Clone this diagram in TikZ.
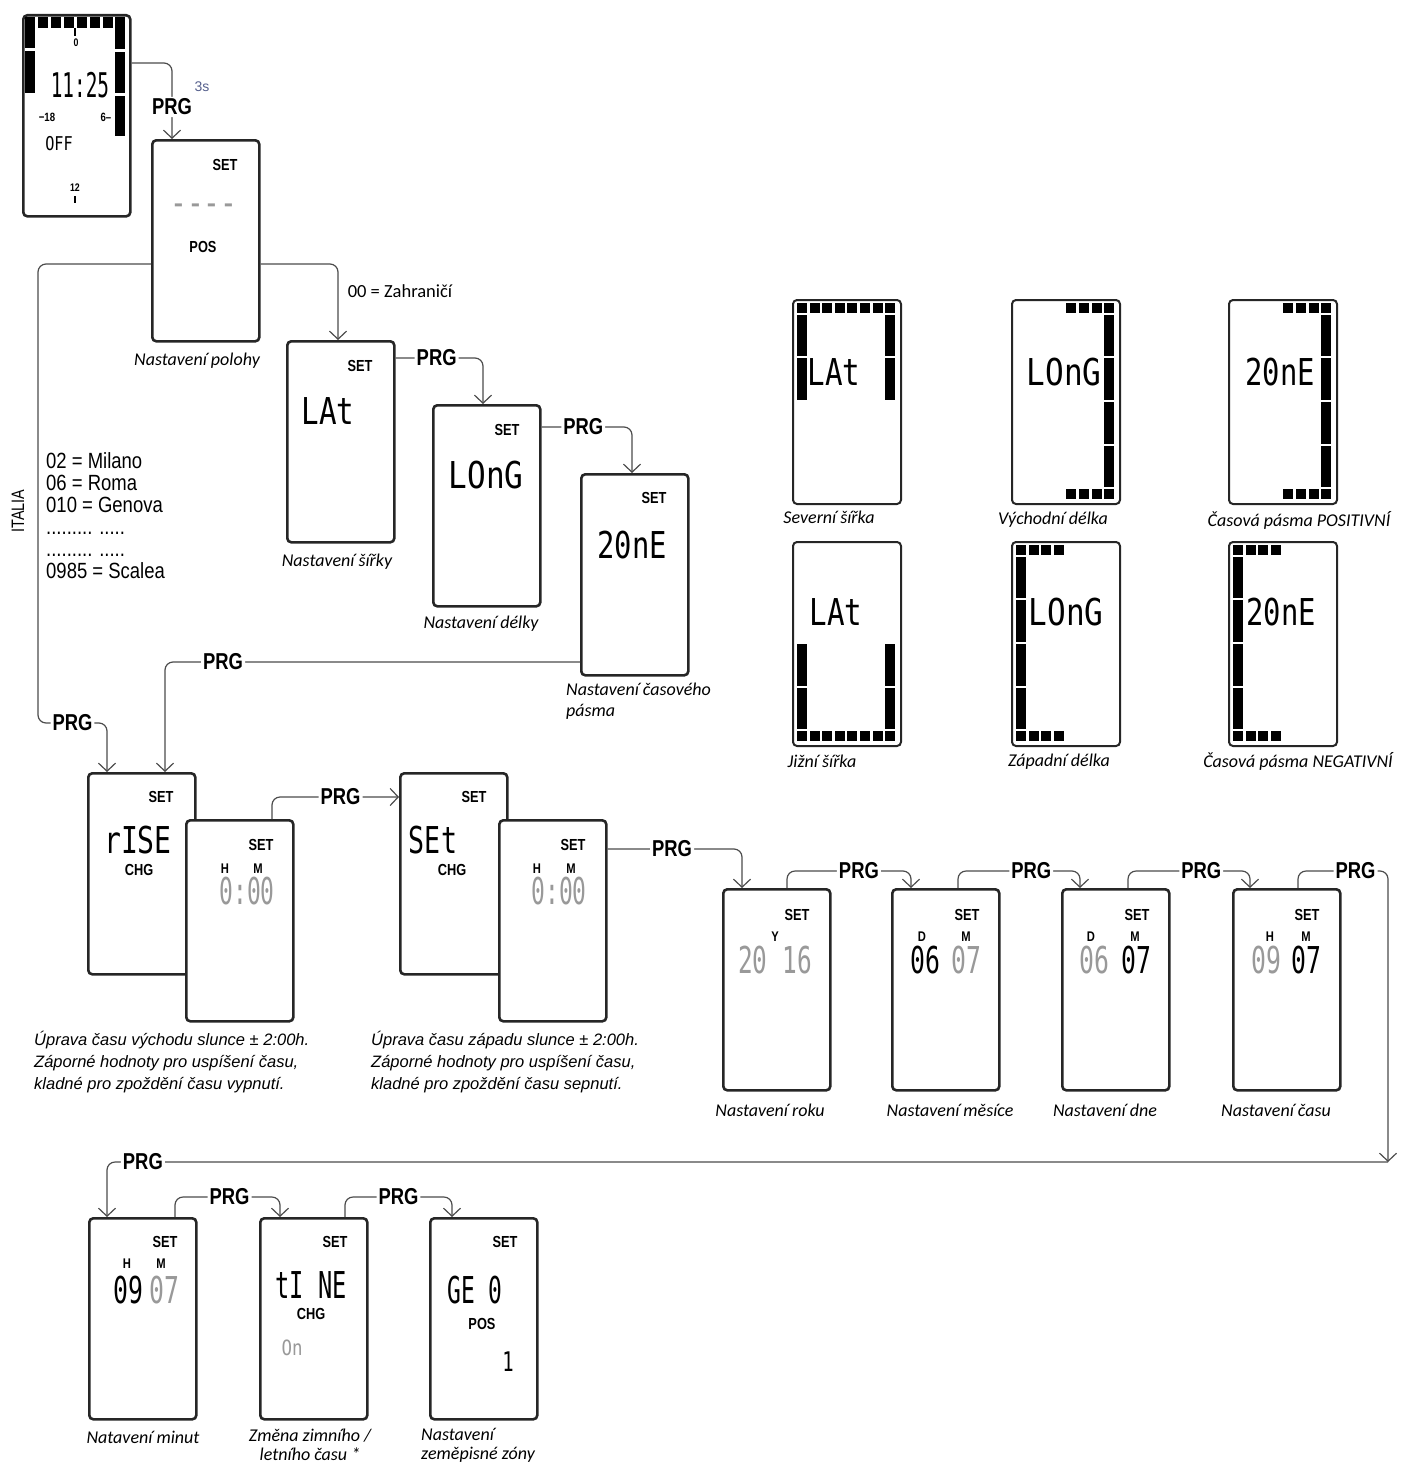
\documentclass[tikz,border=0pt]{standalone}
\usepackage{fontspec}
\usepackage{graphicx}
\setmainfont{Liberation Sans}
\newfontfamily\capfont{Carlito}
\newfontfamily\lcdfont{DejaVu Sans Mono}
\usetikzlibrary{arrows.meta}
\definecolor{dimgray}{gray}{0.6}
\definecolor{hintblue}{RGB}{85,95,140}
\newcommand{\cnd}[2][0.8]{\scalebox{#1}[1]{#2}}
\newcommand{\lcd}[2][0.78]{\scalebox{#1}[1]{#2}}
% segments of the small legend displays
\newcommand{\keyrow}[3]{\foreach \i in {#3} \fill ([shift={(5+12.6*\i,#2)}]#1.north west) rectangle ++(10,10);}
\newcommand{\keycol}[3]{\foreach \a/\b in {#3} \fill ([shift={(#2,\a)}]#1.north west) rectangle ([shift={(#2+10,\b)}]#1.north west);}

\begin{document}
\begin{tikzpicture}[x=1pt,y=-1pt,
  lcd/.style={draw=black!85,line width=2.6pt,rounded corners=4pt,fill=white,anchor=north west,inner sep=0pt,minimum width=107pt,minimum height=201pt},
  keybox/.style={lcd,line width=2pt,minimum width=108pt,minimum height=204pt},
  link/.style={draw=black!70,line width=1.2pt,rounded corners=8pt},
  flow/.style={link,-{Straight Barb[length=8pt,width=17pt,line width=1.2pt]}},
  prg/.style={fill=white,inner sep=2pt,font=\fontsize{23}{23}\selectfont\bfseries},
  tag/.style={inner sep=0pt,font=\fontsize{16}{16}\selectfont\bfseries},
  mini/.style={inner sep=0pt,font=\fontsize{14}{14}\selectfont\bfseries},
  seg/.style={inner sep=0pt,text depth=0pt,font=\lcdfont\fontsize{37}{37}\selectfont},
  dim/.style={text=dimgray},
  capt/.style={inner sep=0pt,font=\capfont\itshape\fontsize{18}{21}\selectfont},
  note/.style={inner sep=0pt,anchor=north west,align=left,font=\itshape\fontsize{16.5}{22}\selectfont}]
  \useasboundingbox (0,0) rectangle (1401,1464);

  % displays
  \node[lcd] (clock) at (22,14) {};
  \node[lcd] (pos) at (151,139) {};
  \node[lcd] (lat) at (286,340) {};
  \node[lcd] (long) at (432,404) {};
  \node[lcd] (zone) at (580,473) {};
  \node[lcd] (rise) at (87,772) {};
  \node[lcd] (riseval) at (185,819) {};
  \node[lcd] (sset) at (399,772) {};
  \node[lcd] (ssetval) at (498,819) {};
  \node[lcd] (year) at (722,888) {};
  \node[lcd] (month) at (891,888) {};
  \node[lcd] (day) at (1061,888) {};
  \node[lcd] (hhmm) at (1232,888) {};
  \node[lcd] (mins) at (88,1217) {};
  \node[lcd] (dst) at (259,1217) {};
  \node[lcd] (geo) at (429,1217) {};
  \node[keybox] (latN) at (792,299) {};
  \node[keybox] (lonE) at (1011,299) {};
  \node[keybox] (tzP) at (1228,299) {};
  \node[keybox] (latS) at (792,541) {};
  \node[keybox] (lonW) at (1011,541) {};
  \node[keybox] (tzN) at (1228,541) {};

  % clock
  \foreach \x in {38,51,64,77,90,103} \fill (\x,17) rectangle ++(10,11);
  \foreach \a/\b in {17/48,51/93} \fill (25,\a) rectangle (35,\b);
  \foreach \a/\b in {17/49,52/93,96/136} \fill (115,\a) rectangle (125,\b);
  \draw[line width=2.5pt] (75,28) -- (75,36);
  \draw[line width=2.5pt] (75,196) -- (75,203);
  \node[mini,font=\fontsize{11}{11}\selectfont\bfseries] (clk-0) at (76,43) {\cnd{0}};
  \node[seg,font=\lcdfont\fontsize{34}{34}\selectfont] (clk-time) at (80,85) {\lcd[0.57]{11:25}};
  \node[mini,font=\fontsize{12}{12}\selectfont\bfseries] (clk-18) at (47,117) {\cnd{−18}};
  \node[mini,font=\fontsize{12}{12}\selectfont\bfseries] (clk-6) at (106,117) {\cnd{6–}};
  \node[seg,font=\lcdfont\fontsize{19}{19}\selectfont] (clk-off) at (59,143) {\lcd[0.8]{OFF}};
  \node[mini,font=\fontsize{11}{11}\selectfont\bfseries] (clk-12) at (75,188) {\cnd{12}};
  \node[font=\fontsize{14}{14}\selectfont,text=hintblue] (hold) at (202,87) {3s};

  % position
  \node[tag] (pos-set) at (225,165) {\cnd{SET}};
  \node[seg,dim] (pos-val) at (204,210) {\lcd[0.75]{----}};
  \node[tag] (pos-pos) at (203,247) {\cnd{POS}};
  \node[capt] (pos-cap) at (197,361) {Nastavení polohy};
  \node[inner sep=0pt,font=\capfont\fontsize{18.5}{18.5}\selectfont] (abroad) at (400,291) {00 = Zahraničí};
  \node[inner sep=0pt,rotate=90,font=\fontsize{18}{18}\selectfont] (italia) at (18,511) {\cnd{ITALIA}};
  \node[inner sep=0pt,anchor=north west,align=left,font=\fontsize{22}{22}\selectfont] (cities) at (46,452)
    {\cnd[0.84]{02 = Milano}\\\cnd[0.84]{06 = Roma}\\\cnd[0.84]{010 = Genova}\\\cnd[0.84]{......... .....}\\\cnd[0.84]{......... .....}\\\cnd[0.84]{0985 = Scalea}};

  % latitude, longitude, zone
  \node[tag] (lat-set) at (360,366) {\cnd{SET}};
  \node[seg] (lat-val) at (328,411) {\lcd[0.79]{LAt}};
  \node[capt] (lat-cap) at (337,562) {Nastavení šířky};
  \node[tag] (long-set) at (507,430) {\cnd{SET}};
  \node[seg] (long-val) at (486,475) {\lcd[0.84]{LOnG}};
  \node[capt] (long-cap) at (481,624) {Nastavení délky};
  \node[tag] (zone-set) at (654,498) {\cnd{SET}};
  \node[seg] (zone-val) at (632,545) {\lcd[0.78]{20nE}};
  \node[capt,anchor=north west,align=left] (zone-cap) at (566,683) {Nastavení časového\\pásma};

  % sunrise, sunset
  \node[tag] (rise-set) at (161,797) {\cnd{SET}};
  \node[seg] (rise-val) at (138,840) {\lcd[0.76]{rISE}};
  \node[tag] (rise-chg) at (139,870) {\cnd{CHG}};
  \node[tag] (riseval-set) at (261,845) {\cnd{SET}};
  \node[mini] (riseval-h) at (225,869) {\cnd{H}};
  \node[mini] (riseval-m) at (258,869) {\cnd{M}};
  \node[seg,dim] (riseval-val) at (247,891) {\lcd[0.62]{0:00}};
  \node[tag] (sset-set) at (474,797) {\cnd{SET}};
  \node[seg] (sset-val) at (433,840) {\lcd[0.72]{SEt}};
  \node[tag] (sset-chg) at (452,870) {\cnd{CHG}};
  \node[tag] (ssetval-set) at (573,845) {\cnd{SET}};
  \node[mini] (ssetval-h) at (537,869) {\cnd{H}};
  \node[mini] (ssetval-m) at (571,869) {\cnd{M}};
  \node[seg,dim] (ssetval-val) at (559,891) {\lcd[0.62]{0:00}};
  \node[note] (rise-note) at (34,1031) {Úprava času východu slunce ± 2:00h.\\Záporné hodnoty pro uspíšení času,\\kladné pro zpoždění času vypnutí.};
  \node[note] (sset-note) at (371,1031) {Úprava času západu slunce ± 2:00h.\\Záporné hodnoty pro uspíšení času,\\kladné pro zpoždění času sepnutí.};

  % date and time
  \node[tag] (year-set) at (797,915) {\cnd{SET}};
  \node[mini] (year-y) at (775,937) {\cnd{Y}};
  \node[seg,dim] (year-val) at (775,960) {\lcd[0.66]{20 16}};
  \node[capt] (year-cap) at (770,1110) {Nastavení roku};
  \node[tag] (month-set) at (967,915) {\cnd{SET}};
  \node[mini] (month-d) at (922,937) {\cnd{D}};
  \node[mini] (month-m) at (966,937) {\cnd{M}};
  \node[seg] (month-dd) at (925,960) {\lcd[0.67]{06}};
  \node[seg,dim] (month-mm) at (966,960) {\lcd[0.67]{07}};
  \node[capt] (month-cap) at (950,1110) {Nastavení měsíce};
  \node[tag] (day-set) at (1137,915) {\cnd{SET}};
  \node[mini] (day-d) at (1091,937) {\cnd{D}};
  \node[mini] (day-m) at (1135,937) {\cnd{M}};
  \node[seg,dim] (day-dd) at (1094,960) {\lcd[0.67]{06}};
  \node[seg] (day-mm) at (1136,960) {\lcd[0.67]{07}};
  \node[capt] (day-cap) at (1105,1110) {Nastavení dne};
  \node[tag] (hhmm-set) at (1307,915) {\cnd{SET}};
  \node[mini] (hhmm-h) at (1270,937) {\cnd{H}};
  \node[mini] (hhmm-m) at (1306,937) {\cnd{M}};
  \node[seg,dim] (hhmm-hh) at (1266,960) {\lcd[0.67]{09}};
  \node[seg] (hhmm-mm) at (1306,960) {\lcd[0.67]{07}};
  \node[capt] (hhmm-cap) at (1276,1110) {Nastavení času};

  % minutes, summer time, zone
  \node[tag] (mins-set) at (165,1242) {\cnd{SET}};
  \node[mini] (mins-h) at (127,1264) {\cnd{H}};
  \node[mini] (mins-m) at (161,1264) {\cnd{M}};
  \node[seg] (mins-hh) at (128,1290) {\lcd[0.67]{09}};
  \node[seg,dim] (mins-mm) at (164,1290) {\lcd[0.67]{07}};
  \node[capt] (mins-cap) at (143,1437) {Natavení minut};
  \node[tag] (dst-set) at (335,1242) {\cnd{SET}};
  \node[seg] (dst-val) at (311,1285) {\lcd[0.64]{tI NE}};
  \node[tag] (dst-chg) at (311,1314) {\cnd{CHG}};
  \node[seg,dim,font=\lcdfont\fontsize{21}{21}\selectfont] (dst-on) at (292,1348) {\lcd[0.83]{On}};
  \node[capt,align=center,font=\capfont\itshape\fontsize{18}{19}\selectfont] (dst-cap) at (310,1445) {Změna zimního /\\letního času *};
  \node[tag] (geo-set) at (505,1242) {\cnd{SET}};
  \node[seg] (geo-val) at (475,1290) {\lcd[0.62]{GE 0}};
  \node[tag] (geo-pos) at (482,1324) {\cnd{POS}};
  \node[seg,font=\lcdfont\fontsize{27}{27}\selectfont] (geo-one) at (508,1362) {\lcd[0.7]{1}};
  \node[capt,anchor=north west,align=left,font=\capfont\itshape\fontsize{18}{19}\selectfont] (geo-cap) at (421,1428) {Nastavení\\zeměpisné zóny};

  % legend
  \keyrow{latN}{4}{0,...,7} \keycol{latN}{5}{16/57,59/101} \keycol{latN}{93}{16/57,59/101}
  \keyrow{latS}{190}{0,...,7} \keycol{latS}{5}{103/145,147/188} \keycol{latS}{93}{103/145,147/188}
  \keyrow{lonE}{4}{4,...,7} \keyrow{lonE}{190}{4,...,7} \keycol{lonE}{93}{16/57,59/101,103/145,147/188}
  \keyrow{lonW}{4}{0,...,3} \keyrow{lonW}{190}{0,...,3} \keycol{lonW}{5}{16/57,59/101,103/145,147/188}
  \keyrow{tzP}{4}{4,...,7} \keyrow{tzP}{190}{4,...,7} \keycol{tzP}{93}{16/57,59/101,103/145,147/188}
  \keyrow{tzN}{4}{0,...,3} \keyrow{tzN}{190}{0,...,3} \keycol{tzN}{5}{16/57,59/101,103/145,147/188}
  \node[seg] (latN-val) at (834,372) {\lcd[0.79]{LAt}};
  \node[seg] (lonE-val) at (1064,372) {\lcd[0.84]{LOnG}};
  \node[seg] (tzP-val) at (1280,372) {\lcd[0.78]{20nE}};
  \node[seg] (latS-val) at (836,612) {\lcd[0.79]{LAt}};
  \node[seg] (lonW-val) at (1066,612) {\lcd[0.84]{LOnG}};
  \node[seg] (tzN-val) at (1281,612) {\lcd[0.78]{20nE}};
  \node[capt] (latN-cap) at (829,517) {Severní šířka};
  \node[capt] (lonE-cap) at (1053,520) {Východní délka};
  \node[capt] (tzP-cap) at (1299,520) {Časová pásma POSITIVNÍ};
  \node[capt] (latS-cap) at (822,761) {Jižní šířka};
  \node[capt] (lonW-cap) at (1059,762) {Západní délka};
  \node[capt] (tzN-cap) at (1298,761) {Časová pásma NEGATIVNÍ};

  % connectors
  \coordinate (itbend) at (38,723);
  \coordinate (turn) at (1388,1162);
  \draw[flow] ([yshift=-49pt]clock.north east) -| node[prg,pos=0.79] (prg0) {\cnd{PRG}} ([xshift=21pt]pos.north west);
  \draw[flow] ([yshift=-125pt]pos.north east) -| ([xshift=52pt]lat.north west);
  \draw[flow] ([yshift=-125pt]pos.north west) -| (itbend) -| node[prg,pos=0.25] (prg1) {\cnd{PRG}} ([xshift=20pt]rise.north west);
  \draw[flow] ([yshift=-18pt]lat.north east) -| node[prg,pos=0.235] (prg2) {\cnd{PRG}} ([xshift=51pt]long.north west);
  \draw[flow] ([yshift=-23pt]long.north east) -| node[prg,pos=0.23] (prg3) {\cnd{PRG}} ([xshift=52pt]zone.north west);
  \draw[flow] ([yshift=-189pt]zone.north west) -| node[prg,pos=0.43] (prg4) {\cnd{PRG}} ([xshift=78pt]rise.north west);
  \draw[flow] ([xshift=87pt]riseval.north west) |- node[prg,pos=0.77] (prg5) {\cnd{PRG}} ([yshift=-25pt]sset.north west);
  \draw[flow] ([yshift=-30pt]ssetval.north east) -| node[prg,pos=0.24] (prg6) {\cnd{PRG}} ([xshift=20pt]year.north west);
  \draw[flow] ([xshift=65pt]year.north west) -- ++(0,-17) -| node[prg,pos=0.29] (prg7) {\cnd{PRG}} ([xshift=20pt]month.north west);
  \draw[flow] ([xshift=67pt]month.north west) -- ++(0,-17) -| node[prg,pos=0.3] (prg8) {\cnd{PRG}} ([xshift=19pt]day.north west);
  \draw[flow] ([xshift=67pt]day.north west) -- ++(0,-17) -| node[prg,pos=0.3] (prg9) {\cnd{PRG}} ([xshift=18pt]hhmm.north west);
  \draw[flow] ([xshift=66pt]hhmm.north west) -- ++(0,-17) -| node[prg,pos=0.32] (prg10) {\cnd{PRG}} (turn);
  \draw[flow] (turn) -| node[prg,pos=0.486] (prg11) {\cnd{PRG}} ([xshift=19pt]mins.north west);
  \draw[flow] ([xshift=87pt]mins.north west) -- ++(0,-20) -| node[prg,pos=0.26] (prg12) {\cnd{PRG}} ([xshift=21pt]dst.north west);
  \draw[flow] ([xshift=86pt]dst.north west) -- ++(0,-20) -| node[prg,pos=0.25] (prg13) {\cnd{PRG}} ([xshift=23pt]geo.north west);
\end{tikzpicture}
\end{document}
